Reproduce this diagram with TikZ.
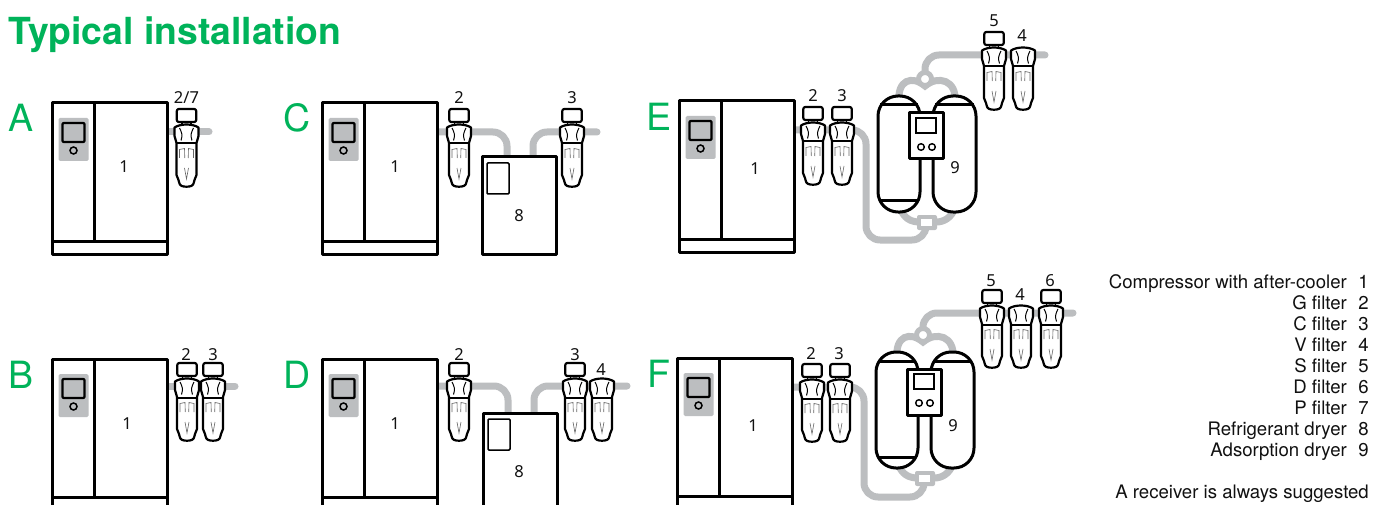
\documentclass[tikz,border=0pt]{standalone}
\usepackage{fontspec}
\setmainfont{TeX Gyre Heros}
\newfontfamily\numfont{Noto Sans}
\definecolor{brandgreen}{HTML}{00B35A}
\definecolor{pipegrey}{HTML}{BCBEC0}
\definecolor{inktone}{HTML}{111111}
\tikzset{
  x=1pt,y=-1pt,
  pipe/.style={draw=pipegrey,line width=7pt,line cap=round,line join=round,rounded corners=14pt},
  outline/.style={draw=black,line width=3pt,line join=round},
  fine/.style={draw=black,line width=2.2pt,line join=round},
  hair/.style={draw=black!60,line width=.6pt},
  num/.style={anchor=base,inner sep=0pt,font=\numfont\fontsize{16.5}{16.5}\selectfont,text=inktone},
  letter/.style={anchor=base west,inner sep=0pt,font=\fontsize{37.5}{37.5}\selectfont,text=brandgreen},
  legend/.style={anchor=base east,inner sep=0pt,font=\fontsize{18.6}{18.6}\selectfont,text=inktone},
  compressor/.pic={
    \draw[outline,fill=white] (0,0) rectangle (115,151);
    \draw[outline] (42,0) -- (42,138) (0,138) -- (115,138);
    \fill[pipegrey,rounded corners=1.5pt] (6.5,15) rectangle (36.5,58);
    \draw[fine,rounded corners=1pt] (10.5,20) rectangle (32.5,39);
    \draw[draw=black,line width=1.5pt] (21.5,47.5) circle (3.5pt);
  },
  filterunit/.pic={
    \draw[fine,fill=white]
      (-12,-4.5) .. controls (-6,-8.5) and (6,-8.5) .. (12,-4.5)
      -- (12,4) -- (10,11) -- (10,43) -- (8,48)
      -- (7.5,50) .. controls (7,54) and (4,54.7) .. (0,54.7)
      .. controls (-4,54.7) and (-7,54) .. (-7.5,50)
      -- (-8,48) -- (-10,43) -- (-10,11) -- (-12,4) -- cycle;
    \draw[line width=2pt] (-10.2,11.5) -- (10.2,11.5);
    \draw[draw=black,line width=1pt] (-7,-4) .. controls (-5,0) and (-3.5,3) .. (-5.5,8.5)
      (7,-4) .. controls (5,0) and (3.5,3) .. (5.5,8.5);
    \draw[hair] (-7,26) -- (-7,17.5) -- (-2,16.5) -- (-1.7,26)
      (7,26) -- (7,17.5) -- (2,16.5) -- (1.7,26)
      (-2,36) -- (0,47) -- (2,36);
  },
  filterhead/.pic={
    \draw[line width=1.6pt] (-4.5,-10) -- (-4.5,-7) (4.5,-10) -- (4.5,-7);
    \draw[fine,fill=white,rounded corners=2pt] (-9.7,-23) rectangle (9.7,-10);
  },
  refdryer/.pic={
    \draw[outline,fill=white] (0,0) rectangle (74,97);
    \draw[draw=black,line width=1.5pt,rounded corners=1pt] (5,6) rectangle (27,37);
  },
  adsdryer/.pic={
    \draw[pipegrey,line width=7pt] (21,6) .. controls (19,-16) and (34,-21) .. (47,-10)
      .. controls (60,-21) and (79,-16) .. (77,6);
    \draw[pipegrey,line width=7pt] (22,112) .. controls (26,122) and (32,126) .. (42,126)
      (77,112) .. controls (73,122) and (66,126) .. (58,126);
    \draw[pipegrey,line width=5pt,fill=white] (47,-17) circle (6.5pt);
    \fill[pipegrey,rounded corners=2pt] (39,119) rectangle (59,134);
    \fill[white] (43,123) rectangle (54,130);
    \draw[outline,fill=white,rounded corners=20pt] (0,0) rectangle (42,116);
    \draw[outline,fill=white,rounded corners=20pt] (55,0) rectangle (98,116);
    \draw[outline] (2,9) -- (40,9) (2,105) -- (40,105) (57,9) -- (96,9);
    \draw[outline,fill=white] (31,17) rectangle (65,63);
    \draw[draw=black,line width=1.5pt] (38,22) rectangle (58,37);
    \draw[draw=black,line width=1.4pt] (43,51) circle (3.3pt) (54,51) circle (3.3pt);
  },
}
\begin{document}
\begin{tikzpicture}
\useasboundingbox (0,0) rectangle (1386,505);
\fill[white] (0,0) rectangle (1386,505);
\clip (0,0) rectangle (1386,505);

\node[anchor=base west,inner sep=0pt,font=\bfseries\fontsize{37.3}{37.3}\selectfont,text=brandgreen] (title) at (8,45) {Typical installation};

\node[letter] (lA) at (8,132) {A};
\node[letter] (lC) at (283,132) {C};
\node[letter] (lE) at (646,131) {E};
\node[letter] (lB) at (8,388) {B};
\node[letter] (lD) at (283,388) {D};
\node[letter] (lF) at (647,387) {F};

% ---- named anchor points of the pipework
\coordinate (Aout) at (167,132); \coordinate (Aend) at (209,132);
\coordinate (Bout) at (167,386); \coordinate (Bend) at (235,386);
\coordinate (Cout) at (436,132); \coordinate (Cin) at (507,157);
\coordinate (Cdry) at (533,157); \coordinate (Cend) at (597,132);
\coordinate (Dout) at (436,386); \coordinate (Din) at (508,413);
\coordinate (Ddry) at (534,413); \coordinate (Dend) at (627,386);
\coordinate (Eout) at (793,130); \coordinate (Ebot) at (866,240); \coordinate (Eend) at (1045,55);
\coordinate (Fout) at (791,387); \coordinate (Fbot) at (864,497); \coordinate (Fend) at (1073,313);
\coordinate (Ein) at (926,226); \coordinate (Etop) at (925,79);
\coordinate (Fin) at (924,482); \coordinate (Ftop) at (923,335);

% ---- pipes
\draw[pipe] (Aout) -- (Aend);
\draw[pipe] (Bout) -- (Bend);
\draw[pipe] (Cout) -| (Cin);
\draw[pipe] (Cdry) |- (Cend);
\draw[pipe] (Dout) -| (Din);
\draw[pipe] (Ddry) |- (Dend);
\draw[pipe] (Eout) -| (Ebot) -| (Ein);
\draw[pipe] (Fout) -| (Fbot) -| (Fin);
\draw[pipe] (Etop) |- (Eend);
\draw[pipe] (Ftop) |- (Fend);

% ---- compressors
\pic (cA) at (52,103) {compressor};
\pic (cB) at (52,359) {compressor};
\pic (cC) at (322,103) {compressor};
\pic (cD) at (322,359) {compressor};
\pic (cE) at (679,101) {compressor};
\pic (cF) at (677,358) {compressor};

% ---- refrigerant dryers
\pic (rC) at (482,157) {refdryer};
\pic (rD) at (483,413) {refdryer};

% ---- adsorption dryers
\pic (aE) at (878,96) {adsdryer};
\pic (aF) at (876,352) {adsdryer};

% ---- filters
\foreach \n/\x/\y in {fA/186.5/132,fB1/187/386,fB2/213/386,fC1/459/132,fC2/572/132,fD1/459/386,fD2/575/386,
                      fE1/813/130,fE2/842/130,fE3/994/55,fF1/812/387,fF2/840/387,fF3/992/313,fF5/1051/313}{
  \pic (\n) at (\x,\y) {filterunit};
  \pic (\n h) at (\x,\y) {filterhead};
}
\pic (fD3) at (602,386) {filterunit};
\pic (fE4) at (1023,55) {filterunit};
\pic (fF4) at (1021,313) {filterunit};

% ---- numbers
\node[num] (n1) at (186.5,104) {2/7};
\node[num] (n2) at (124,173) {1};
\node[num] (n3) at (186,360) {2};
\node[num] (n4) at (213,360) {3};
\node[num] (n5) at (127,429) {1};
\node[num] (n6) at (459,104) {2};
\node[num] (n7) at (572,104) {3};
\node[num] (n8) at (395,173) {1};
\node[num] (n9) at (519,222) {8};
\node[num] (n10) at (459,360) {2};
\node[num] (n11) at (575,360) {3};
\node[num] (n12) at (601,375) {4};
\node[num] (n13) at (395,429) {1};
\node[num] (n14) at (519,477) {8};
\node[num] (n15) at (813,102) {2};
\node[num] (n16) at (842,102) {3};
\node[num] (n17) at (755,175) {1};
\node[num] (n18) at (955,174) {9};
\node[num] (n19) at (994,27) {5};
\node[num] (n20) at (1022,42) {4};
\node[num] (n21) at (811,359) {2};
\node[num] (n22) at (839,359) {3};
\node[num] (n23) at (753,431) {1};
\node[num] (n24) at (953,431) {9};
\node[num] (n25) at (991,286) {5};
\node[num] (n26) at (1020,300) {4};
\node[num] (n27) at (1050,286) {6};

% ---- legend
\foreach \n/\y/\t/\d in {a/288/Compressor with after-cooler/1,b/309/G filter/2,c/330/C filter/3,d/351/V filter/4,
   e/372/S filter/5,f/393/D filter/6,g/414/P filter/7,h/435/Refrigerant dryer/8,i/456/Adsorption dryer/9}{
  \node[legend] (k\n) at (1347,\y) {\t};
  \node[legend] (v\n) at (1369,\y) {\d};
}
\node[legend] (note) at (1369,498) {A receiver is always suggested};
\end{tikzpicture}
\end{document}
